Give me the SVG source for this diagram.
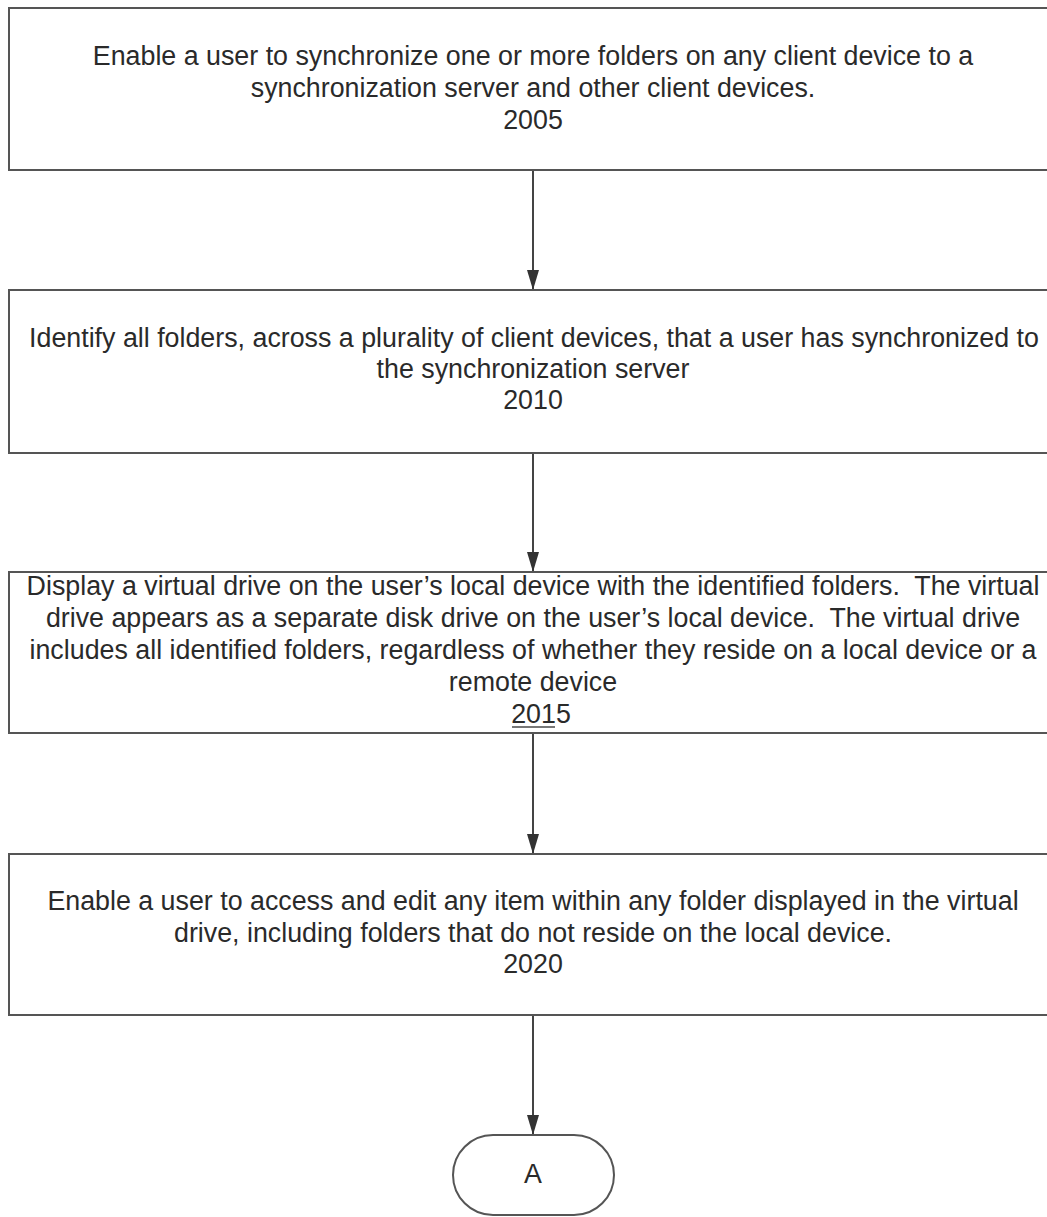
<svg xmlns="http://www.w3.org/2000/svg" width="1047" height="1217" viewBox="0 0 1047 1217">
<defs>
<style>
.box{fill:#fff;stroke:#555;stroke-width:2}
.t{font-family:"Liberation Sans",Arial,sans-serif;font-size:26.8px;fill:#2a2a2a;text-anchor:middle;white-space:pre}
.c{stroke:#444;stroke-width:2;fill:none}
</style>
<marker id="ah" viewBox="0 0 20 12" markerUnits="userSpaceOnUse" markerWidth="20" markerHeight="12" refX="20" refY="6" orient="auto">
<path d="M0,0 L20,6 L0,12 z" fill="#333"/>
</marker>
</defs>
<rect width="1047" height="1217" fill="#fff"/>
<g id="connectors">
<line class="c" x1="533" y1="170" x2="533" y2="290" marker-end="url(#ah)"/>
<line class="c" x1="533" y1="453" x2="533" y2="572" marker-end="url(#ah)"/>
<line class="c" x1="533" y1="733" x2="533" y2="854" marker-end="url(#ah)"/>
<line class="c" x1="533" y1="1015" x2="533" y2="1135" marker-end="url(#ah)"/>
</g>
<g id="n2005">
<rect class="box" x="9" y="8" width="1060" height="162"/>
<text class="t" x="533" y="65">Enable a user to synchronize one or more folders on any client device to a</text>
<text class="t" x="533" y="97">synchronization server and other client devices.</text>
<text class="t" x="533" y="129">2005</text>
</g>
<g id="n2010">
<rect class="box" x="9" y="290" width="1060" height="163"/>
<text class="t" x="534" y="347">Identify all folders, across a plurality of client devices, that a user has synchronized to</text>
<text class="t" x="533" y="378">the synchronization server</text>
<text class="t" x="533" y="409">2010</text>
</g>
<g id="n2015">
<rect class="box" x="9" y="572" width="1060" height="161"/>
<text class="t" x="533" y="595">Display a virtual drive on the user’s local device with the identified folders.  The virtual</text>
<text class="t" x="533" y="627">drive appears as a separate disk drive on the user’s local device.  The virtual drive</text>
<text class="t" x="533" y="659">includes all identified folders, regardless of whether they reside on a local device or a</text>
<text class="t" x="533" y="691">remote device</text>
<text class="t" x="541" y="723">2015</text>
<line x1="512" y1="727" x2="555" y2="727" stroke="#777" stroke-width="2"/>
</g>
<g id="n2020">
<rect class="box" x="9" y="854" width="1060" height="161"/>
<text class="t" x="533" y="910">Enable a user to access and edit any item within any folder displayed in the virtual</text>
<text class="t" x="533" y="942">drive, including folders that do not reside on the local device.</text>
<text class="t" x="533" y="973">2020</text>
</g>
<g id="nA">
<rect class="box" x="453" y="1135" width="161" height="80" rx="40" ry="40"/>
<text class="t" x="533" y="1183">A</text>
</g>
</svg>
